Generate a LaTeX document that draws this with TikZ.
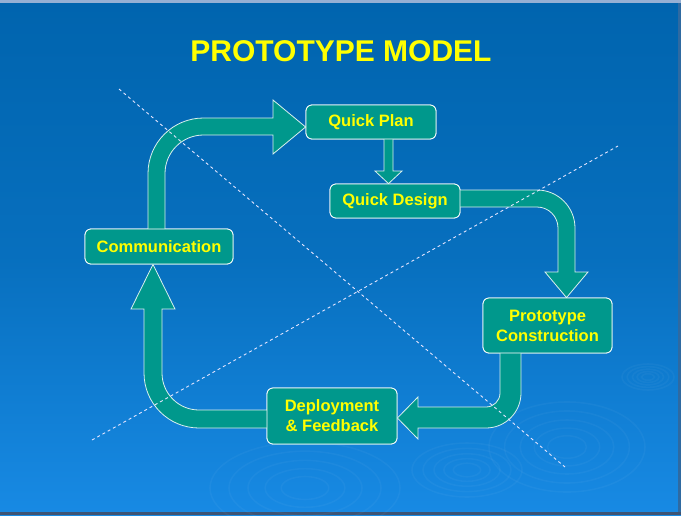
\documentclass[tikz,border=0pt]{standalone}
\usepackage{fontspec}
\setmainfont{Liberation Sans}
\usetikzlibrary{calc}
\definecolor{bgtop}{RGB}{0,100,174}
\definecolor{bgbot}{RGB}{24,138,228}
\definecolor{teal}{RGB}{0,152,140}
\definecolor{ytext}{RGB}{255,255,0}
\definecolor{topstrip}{RGB}{150,176,212}
\definecolor{botstrip}{RGB}{62,84,116}
\tikzset{
  stagebox/.style={draw=white, line width=0.8pt, fill=teal, rounded corners=6pt,
    text=ytext, font=\fontsize{16.5}{20}\selectfont\bfseries, align=center, inner sep=0pt},
  blockarrow/.style={draw=white!85!teal, line width=0.8pt, fill=teal, line join=miter},
  guide/.style={draw=white!90!blue, line width=0.9pt, dash pattern=on 3pt off 3pt},
  ripple/.style={draw=white, draw opacity=0.035, line width=1.6pt}
}
\begin{document}
\begin{tikzpicture}[x=1pt,y=-1pt]
\useasboundingbox (0,0) rectangle (681,515);
% background
\shade[top color=bgtop, bottom color=bgbot, middle color=bgtop!70!bgbot] (0,0) rectangle (681,515);
\fill[topstrip] (0,0) rectangle (681,3);
\fill[botstrip] (0,512) rectangle (681,515);
\fill[botstrip!60!bgbot] (678,3) rectangle (681,512);
% ripples
\foreach \r in {1,0.8,0.6,0.42,0.25} {
  \draw[ripple] (305,488) ellipse ({95*\r} and {46*\r});
  \draw[ripple] (467,470) ellipse ({55*\r} and {27*\r});
  \draw[ripple] (567,447) ellipse ({78*\r} and {45*\r});
  \draw[ripple] (648,377) ellipse ({26*\r} and {13*\r});
}
% title
\node[font=\fontsize{30}{34}\selectfont\bfseries, text=ytext] (title) at (341,51) {PROTOTYPE MODEL};
% nodes (placed first for names; redrawn on top below)
\path
  (371,122)   node[stagebox, minimum width=130pt, minimum height=34pt] (qp) {}
  (395,201)   node[stagebox, minimum width=130pt, minimum height=34pt] (qd) {}
  (159,246.5) node[stagebox, minimum width=148pt, minimum height=35pt] (comm) {}
  (547.5,325.5) node[stagebox, minimum width=129pt, minimum height=55pt] (pc) {}
  (332,416)   node[stagebox, minimum width=130pt, minimum height=56pt] (df) {};
% block arrows
% Communication -> Quick Plan
\draw[blockarrow] (148,232) -- (148,173.5) arc[start angle=180, end angle=270, radius=55.5]
  -- (273,118) -- (273,100) -- (qp.west |- 0,127) -- (273,154) -- (273,135)
  -- (203.5,135) arc[start angle=270, end angle=180, radius=38.5] -- (165,232) -- cycle;
% Quick Plan -> Quick Design
\draw[blockarrow] (384,138) -- (384,171) -- (375,171) -- (qd.north -| 388.5,0) -- (402,171) -- (393,171) -- (393,138) -- cycle;
% Quick Design -> Prototype Construction
\draw[blockarrow] (456,190) -- (537,190) arc[start angle=270, end angle=360, radius=38]
  -- (575,272) -- (588,272) -- (pc.north -| 566.5,0) -- (545,272) -- (558,272)
  -- (558,228) arc[start angle=0, end angle=-90, radius=21] -- (456,207) -- cycle;
% Prototype Construction -> Deployment & Feedback
\draw[blockarrow] (500,350) -- (500,393) arc[start angle=0, end angle=90, radius=14]
  -- (418,407) -- (418,397) -- (df.east |- 0,418) -- (418,439) -- (418,428)
  -- (486,428) arc[start angle=90, end angle=0, radius=35] -- (521,350) -- cycle;
% Deployment & Feedback -> Communication
\draw[blockarrow] (270,410) -- (199,410) arc[start angle=90, end angle=180, radius=37]
  -- (162,309) -- (175,309) -- (comm.south -| 153,0) -- (131,309) -- (144,309)
  -- (144,373) arc[start angle=180, end angle=90, radius=55] -- (270,428) -- cycle;
% dashed guide lines
\coordinate (g1a) at (119,89);
\coordinate (g1b) at (565,467);
\coordinate (g2a) at (92,440);
\coordinate (g2b) at (618,146);
\draw[guide] (g1a) -- (g1b);
\draw[guide] (g2a) -- (g2b);
% stage boxes on top
\node[stagebox, minimum width=130pt, minimum height=34pt] at (qp) {Quick Plan};
\node[stagebox, minimum width=130pt, minimum height=34pt] at (qd) {Quick Design};
\node[stagebox, minimum width=148pt, minimum height=35pt] at (comm) {Communication};
\node[stagebox, minimum width=129pt, minimum height=55pt] at (pc) {Prototype\\Construction};
\node[stagebox, minimum width=130pt, minimum height=56pt] at (df) {Deployment\\\& Feedback};
\end{tikzpicture}
\end{document}
